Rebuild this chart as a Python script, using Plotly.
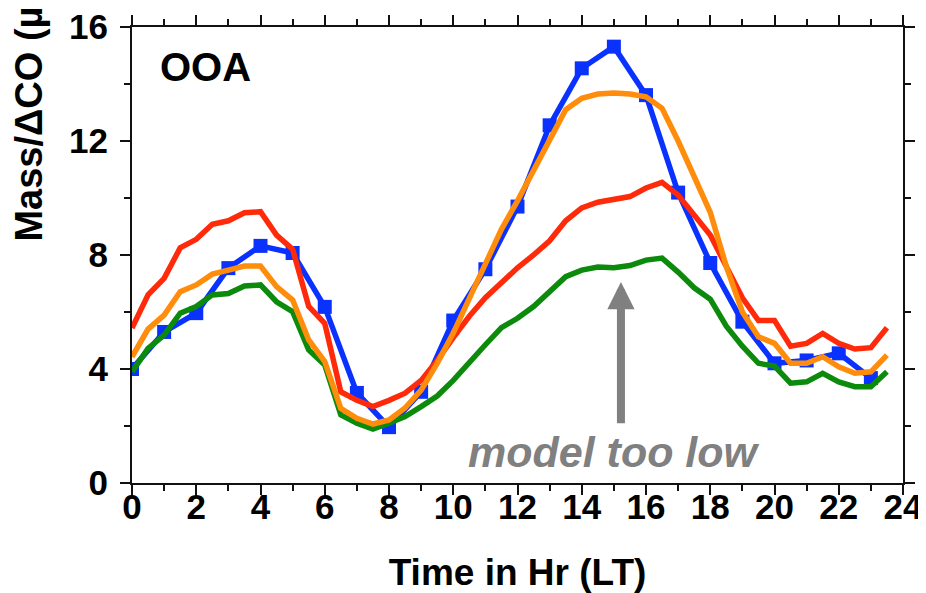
import plotly.graph_objects as go

# ---- data ----
hours_half = [i * 0.5 for i in range(48)]
hours = list(range(24))

obs_blue = [4.0, 5.3, 5.96, 7.54, 8.32, 8.07, 6.18, 3.16, 1.96, 3.2, 5.7, 7.5,
            9.7, 12.55, 14.55, 15.31, 13.61, 10.19, 7.72, 5.66, 4.2, 4.3, 4.55, 3.68]

model_red = [5.44, 6.6, 7.18, 8.25, 8.55, 9.08, 9.2, 9.48, 9.52, 8.7, 8.2, 6.2,
             5.6, 3.2, 2.9, 2.68, 2.9, 3.15, 3.6, 4.3, 5.1, 5.85, 6.5, 7.05,
             7.55, 8.0, 8.5, 9.2, 9.65, 9.85, 9.95, 10.05, 10.35, 10.55, 10.1, 9.4,
             8.7, 7.6, 6.5, 5.7, 5.7, 4.8, 4.9, 5.25, 4.9, 4.7, 4.75, 5.45]

model_orange = [4.43, 5.4, 5.89, 6.71, 6.95, 7.33, 7.47, 7.61, 7.61, 6.89, 6.42, 5.02,
                4.26, 2.62, 2.27, 2.07, 2.21, 2.63, 3.26, 4.2, 5.26, 6.5, 7.7, 8.9,
                9.9, 11.0, 12.1, 13.1, 13.5, 13.65, 13.68, 13.65, 13.55, 13.15, 12.0, 10.8,
                9.5, 7.6, 6.0, 5.13, 4.9, 4.2, 4.2, 4.43, 4.08, 3.85, 3.9, 4.49]

model_green = [3.9, 4.72, 5.19, 5.96, 6.19, 6.6, 6.65, 6.91, 6.95, 6.36, 6.01, 4.67,
               4.14, 2.39, 2.1, 1.89, 2.1, 2.33, 2.68, 3.05, 3.6, 4.25, 4.85, 5.45,
               5.78, 6.19, 6.71, 7.24, 7.47, 7.58, 7.55, 7.63, 7.82, 7.89, 7.4, 6.85,
               6.45, 5.5, 4.8, 4.2, 4.1, 3.5, 3.55, 3.85, 3.55, 3.38, 3.38, 3.9]

x_ticks = [0, 2, 4, 6, 8, 10, 12, 14, 16, 18, 20, 22, 24]
y_ticks = [0, 4, 8, 12, 16]

arrow_x = 15.22
arrow_tip_y = 7.05
arrow_tail_y = 2.04

FONT = "Liberation Sans, Arial, sans-serif"

fig = go.Figure()
fig.add_trace(go.Scatter(x=hours, y=obs_blue, mode="lines+markers",
                         line=dict(color="#0a32ff", width=5.5),
                         marker=dict(symbol="square", size=14, color="#0a32ff"),
                         showlegend=False))
fig.add_trace(go.Scatter(x=hours_half, y=model_green, mode="lines",
                         line=dict(color="#0c8a0c", width=5.5), showlegend=False))
fig.add_trace(go.Scatter(x=hours_half, y=model_red, mode="lines",
                         line=dict(color="#ff2a0a", width=5.5), showlegend=False))
fig.add_trace(go.Scatter(x=hours_half, y=model_orange, mode="lines",
                         line=dict(color="#ff8c0a", width=5.5), showlegend=False))

axis_common = dict(
    showgrid=False, zeroline=False, showline=True, linecolor="#111111", linewidth=2,
    mirror="ticks", ticks="outside", ticklen=10, tickwidth=2, tickcolor="#111111",
    automargin=False, ticklabeloverflow="allow",
    tickfont=dict(family=FONT, size=35, color="#000000", weight="bold"),
)

fig.update_xaxes(range=[0, 24], tickvals=x_ticks, ticktext=[str(v) for v in x_ticks],
                 minor=dict(dtick=1, ticks="outside", ticklen=6, tickwidth=2,
                            tickcolor="#111111", showgrid=False),
                 title=dict(text="Time in Hr (LT)", standoff=34,
                            font=dict(family=FONT, size=37, color="#000000", weight="bold")),
                 ticklabelstandoff=-18,
                 **axis_common)
fig.update_yaxes(range=[0, 16], tickvals=y_ticks, ticktext=[str(v) for v in y_ticks],
                 minor=dict(dtick=2, ticks="outside", ticklen=6, tickwidth=2,
                            tickcolor="#111111", showgrid=False),
                 ticklabelstandoff=5,
                 **axis_common)

fig.add_annotation(text="Mass/ΔCO (µg m<sup>-3</sup> ppmv<sup>-1</sup>)", textangle=-90,
                   xref="paper", yref="paper", x=-0.1375, y=0.525,
                   xanchor="center", yanchor="bottom", showarrow=False,
                   font=dict(family=FONT, size=38, color="#000000", weight="bold"))
fig.add_annotation(text="OOA", xref="paper", yref="paper", x=0.034, y=0.912,
                   xanchor="left", yanchor="middle", showarrow=False,
                   font=dict(family=FONT, size=40, color="#000000", weight="bold"))
fig.add_annotation(text="model too low", xref="x", yref="y", x=15.0, y=1.1,
                   xanchor="center", yanchor="middle", showarrow=False,
                   font=dict(family=FONT, size=43, color="#808080", weight="bold",
                             style="italic"))
fig.add_annotation(text="", x=arrow_x, y=arrow_tip_y, ax=arrow_x, ay=arrow_tail_y,
                   xref="x", yref="y", axref="x", ayref="y",
                   showarrow=True, arrowhead=2, arrowwidth=8, arrowsize=0.68,
                   arrowcolor="#808080")

# the page body adds an 8 px offset, so the figure is sized to the visible area
fig.update_layout(width=918, height=585, margin=dict(l=124, r=23, t=19, b=110),
                  paper_bgcolor="white", plot_bgcolor="white", showlegend=False)

fig.write_html("out.html")
